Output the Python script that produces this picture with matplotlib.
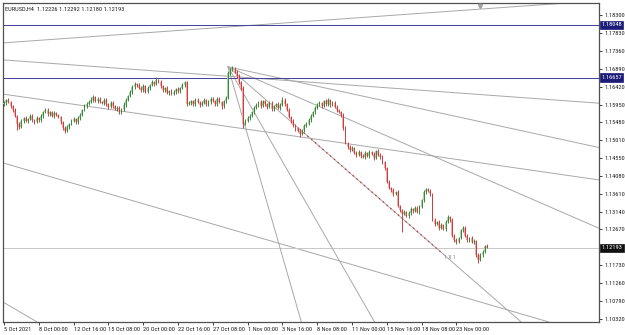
import matplotlib
matplotlib.use("Agg")
import matplotlib.pyplot as plt
from matplotlib import font_manager
import numpy as np

# ---------------- data ----------------
symbol_title = "EURUSD,H4  1.12226 1.12292 1.12180 1.12193"

closes = [
    1.1599, 1.1607, 1.1602,
    1.1591, 1.1581, 1.1565, 1.1544,
    1.1536, 1.1552, 1.1560, 1.1552, 1.1557, 1.1565, 1.1554, 1.1549, 1.1560, 1.1554, 1.1565,
    1.1575, 1.1581,
    1.1570, 1.1575, 1.1565, 1.1573, 1.1568, 1.1562,
    1.1549, 1.1533, 1.1526,
    1.1536, 1.1544, 1.1552, 1.1557, 1.1549, 1.1560,
    1.1568, 1.1581, 1.1591, 1.1596,
    1.1602, 1.1607, 1.1615, 1.1604, 1.1610, 1.1602,
    1.1599, 1.1607, 1.1596, 1.1589, 1.1599, 1.1591, 1.1583, 1.1586,
    1.1575, 1.1581,
    1.1594, 1.1607, 1.1617, 1.1628,
    1.1641, 1.1649, 1.1646,
    1.1638, 1.1633, 1.1644, 1.1628, 1.1638,
    1.1646, 1.1654, 1.1649, 1.1659, 1.1654,
    1.1644, 1.1633, 1.1638, 1.1625, 1.1630,
    1.1623, 1.1628, 1.1636, 1.1630, 1.1638,
    1.1646, 1.1654,
    1.1596,
    1.1599, 1.1604, 1.1596, 1.1607, 1.1602, 1.1594,
    1.1599, 1.1607, 1.1596, 1.1602, 1.1610,
    1.1604, 1.1596, 1.1610, 1.1602, 1.1591, 1.1604, 1.1612,
    1.1678,
    1.1686, 1.1688, 1.1680,
    1.1670, 1.1654, 1.1638,
    1.1544,
    1.1552, 1.1560, 1.1565, 1.1575,
    1.1586, 1.1594, 1.1602, 1.1591, 1.1604,
    1.1596, 1.1589, 1.1599, 1.1583, 1.1591,
    1.1596, 1.1586, 1.1594, 1.1607, 1.1596,
    1.1581, 1.1562, 1.1552, 1.1541, 1.1533,
    1.1526, 1.1518, 1.1528, 1.1539, 1.1544,
    1.1554, 1.1565, 1.1575, 1.1586, 1.1596, 1.1599,
    1.1591, 1.1604, 1.1596, 1.1607, 1.1594, 1.1599,
    1.1589, 1.1581, 1.1575, 1.1568,
    1.1533, 1.1494,
    1.1484, 1.1476, 1.1481, 1.1468,
    1.1463, 1.1470, 1.1460, 1.1457, 1.1468,
    1.1460, 1.1470, 1.1465, 1.1455, 1.1473,
    1.1463, 1.1457, 1.1444, 1.1428,
    1.1392, 1.1376,
    1.1371, 1.1360, 1.1365,
    1.1329,
    1.1318, 1.1308, 1.1313, 1.1302, 1.1310, 1.1321,
    1.1316, 1.1323, 1.1313, 1.1326,
    1.1344, 1.1365, 1.1373,
    1.1368, 1.1360,
    1.1292,
    1.1281, 1.1287, 1.1271, 1.1279, 1.1268,
    1.1287, 1.1300, 1.1292,
    1.1250, 1.1239, 1.1234, 1.1245,
    1.1266, 1.1271, 1.1250,
    1.1239, 1.1245, 1.1234, 1.1237,
    1.1200, 1.1187,
    1.1200, 1.1208, 1.12226, 1.12193,
]
first_open = 1.1596

# upper / lower wick lengths in pips
wick_up = [4,3,5,2,3,4,3,5,4,3, 6,3,4,5,3,4,2,5,3,4, 5,3,4,6,3,2,4,3,5,4,
           3,6,4,3,5,4,3,5,6,4, 7,5,3,4,6,3,5,4,3,5, 4,3,6,4,5,7,4,3,6,5,
           4,3,5,6,4,3,5,4,6,3, 8,4,5,3,4,6,3,5,4,3, 5,4,6,3,4,5,3,4,6,4,
           3,5,4,3,5,4,6,3,4,5, 3,4,5,6,4,8,5,6,4,3, 5,4,6,5,3,4,6,3,5,4,
           3,4,6,5,3,4,5,4,8,4, 3,5,4,6,3,4,5,3,4,6, 5,4,3,5,4,6,3,4,5,4,
           3,6,4,5,3,4,6,5,3,4, 5,3,4,6,3,5,4,3,6,4, 5,3,4,6,5,3,4,5,3,6,
           4,5,3,4,6,3,5,4,3,5, 6,4,3,5,4,3,6,4,5,3, 4,5,3,4,6,3,5,4,6,3,
           3,5,4,6,3,4,5,3,4,6,
           4,3,7]
wick_dn = [4,5,3,4,6,3,16,4,3,5, 4,6,3,5,4,3,5,4,6,3, 4,5,3,6,4,3,5,4,6,3,
           5,4,3,6,4,5,3,4,5,3, 4,6,3,5,4,3,6,4,5,3, 4,3,5,5,4,3,6,4,3,5,
           4,6,3,4,5,3,4,6,3,5, 4,3,5,4,6,3,5,4,3,6, 4,5,3,6,4,3,5,4,6,3,
           5,4,3,6,4,5,3,4,6,3, 8,4,5,3,6,4,3,5,4,6, 11,4,3,5,4,6,3,5,4,3,
           5,6,3,4,5,3,4,6,3,5, 4,3,5,6,8,4,8,3,5,4, 3,5,4,6,3,5,4,3,6,4,
           5,3,4,6,3,5,4,3,5,6, 4,3,5,4,6,3,5,4,6,3, 5,4,3,6,4,5,3,4,6,5,
           3,4,5,48,4,3,6,4,5,3, 4,5,3,6,4,3,5,4,6,3, 5,4,3,6,4,5,3,4,6,3,
           4,5,3,6,4,3,5,4,8,3,
           4,3,1]

price_ticks = [1.18300, 1.17830, 1.17360, 1.16890, 1.16420, 1.15950, 1.15480,
               1.15010, 1.14550, 1.14080, 1.13610, 1.13140, 1.12670, 1.11730,
               1.11260, 1.10790, 1.10320]
date_tick_bars = [0, 16, 32, 48, 64, 80, 96, 112, 128, 144, 160, 176, 192, 208]
date_labels = ["5 Oct 2021", "8 Oct 00:00", "12 Oct 16:00", "15 Oct 08:00",
               "20 Oct 00:00", "22 Oct 16:00", "27 Oct 08:00", "1 Nov 00:00",
               "3 Nov 16:00", "8 Nov 08:00", "11 Nov 00:00", "15 Nov 16:00",
               "18 Nov 08:00", "23 Nov 00:00"]

hlines_blue = [1.18048, 1.16657]
current_price = 1.12193

# trend lines: two anchor points (bar, price) each, extended both ways
trend_lines = [
    ((0, 1.1757), (250, 1.1858)),
    ((0, 1.1712), (270, 1.1600)),
    ((0, 1.1622), (270, 1.1400)),
    ((0, 1.1441), (250, 1.1025)),
    ((0, 1.1075), (15, 1.1025)),
]

# Gann fan from the late-October high
gann_bar = 103
gann_price = 1.1694
gann_unit = 0.000497          # price per bar for the 1x1 line
gann_ratios = [4.0, 2.0, 1.0, 0.5, 0.25]
gann_red_span = (136, 202)

# ---------------- fonts ----------------
available = {f.name for f in font_manager.fontManager.ttflist}
narrow = [f for f in ["Liberation Sans Narrow", "Roboto Condensed", "Open Sans Condensed"] if f in available]
FAM = narrow + ["Liberation Sans", "DejaVu Sans"]
FS = 4.6 if narrow else 4.0

# ---------------- figure ----------------
W, H = 625, 335
fig = plt.figure(figsize=(W / 100, H / 100), dpi=100)
fig.patch.set_facecolor("white")
ax = fig.add_axes([3 / W, 13 / H, 596 / W, 319 / H])
ax.set_facecolor("white")

n = len(closes)
opens = [first_open] + closes[:-1]

ax.set_xlim(-0.46, 273.56)
ax.set_ylim(1.10241, 1.18615)

gray = "#a8a8a8"
for (p1, p2) in trend_lines:
    ax.axline(p1, p2, color=gray, lw=0.7, zorder=1)

for lv in hlines_blue:
    ax.axhline(lv, color="#45459c", lw=0.75, zorder=2)
ax.axhline(current_price, color="#c8c8c8", lw=0.7, zorder=1)

for r in gann_ratios:
    x2 = gann_bar + 1000
    y2 = gann_price - r * gann_unit * 1000
    ax.plot([gann_bar, x2], [gann_price, y2], color=gray, lw=0.7, zorder=1)
a, b = gann_red_span
ax.plot([a, b], [gann_price - gann_unit * (a - gann_bar), gann_price - gann_unit * (b - gann_bar)],
        color="#d03030", lw=0.8, ls=(0, (1.5, 3)), zorder=2)
ax.text(b + 0.5, gann_price - gann_unit * (b - gann_bar) - 0.0002, "1 X 1",
        fontsize=FS - 0.4, family=FAM, color="#808080", va="top", ha="left", zorder=3)

bull_w, bull_b = "#2f7f2f", "#a8d4a8"
bear_w, bear_b = "#cc3333", "#f2aaaa"
for i in range(n):
    o, c = opens[i], closes[i]
    hi = max(o, c) + wick_up[i] * 0.0001
    lo = min(o, c) - wick_dn[i] * 0.0001
    up = c >= o
    wc = bull_w if up else bear_w
    bc = bull_b if up else bear_b
    ax.bar(i, max(abs(c - o), 0.00005), bottom=min(o, c), width=0.85,
           color=bc, edgecolor="none", zorder=4)
    ax.vlines(i, lo, hi, color=wc, lw=0.65, zorder=5)

for s in ax.spines.values():
    s.set_color("#505050")
    s.set_linewidth(0.9)

# chart-shift marker at the top edge
ax.plot([0.8003], [0.992], marker="v", ms=3, color="#a0a0a0", transform=ax.transAxes,
        clip_on=False, zorder=6)

ax.yaxis.tick_right()
ax.set_yticks(price_ticks)
ax.set_yticklabels([f"{v:.5f}" for v in price_ticks], family=FAM)
ax.tick_params(axis="y", labelsize=FS, length=2, pad=2, colors="#202020", width=0.6)

ax.set_xticks(date_tick_bars)
ax.set_xticklabels(date_labels, ha="left", family=FAM)
ax.tick_params(axis="x", labelsize=FS, length=2, pad=1.5, colors="#202020", width=0.6)

def price_box(val, fc, tc):
    ax.annotate(f"{val:.5f}", xy=(1.0, val), xycoords=("axes fraction", "data"),
                xytext=(1.6, 0), textcoords="offset points", fontsize=FS, family=FAM,
                color=tc, va="center", ha="left",
                bbox=dict(boxstyle="square,pad=0.25", fc=fc, ec=fc, lw=0.5),
                annotation_clip=False, zorder=10)

for lv in hlines_blue:
    price_box(lv, "#1c1c78", "white")
price_box(current_price, "#101010", "white")

ax.text(0.004, 0.988, symbol_title, transform=ax.transAxes, fontsize=FS, family=FAM,
        color="#202020", va="top", ha="left", zorder=10)

fig.savefig("out.png", dpi=100, facecolor="white")
